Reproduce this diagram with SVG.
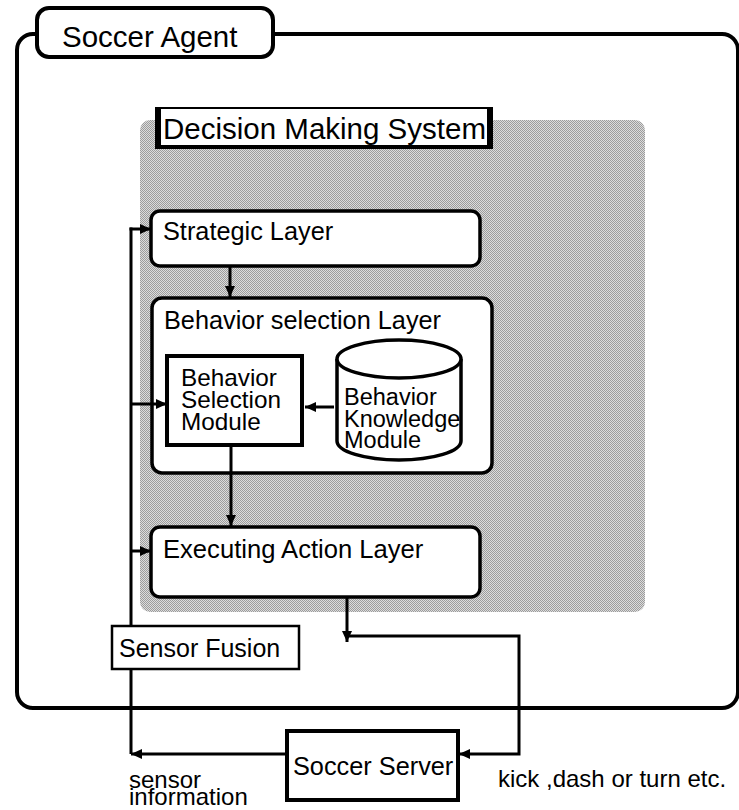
<svg xmlns="http://www.w3.org/2000/svg" width="739" height="810" viewBox="0 0 739 810">
<style>
  text { font-family: "Liberation Sans", Arial, sans-serif; fill: #000; }
  .box { fill: #fff; stroke: #000; stroke-width: 3.5; }
  .thin { fill: #fff; stroke: #000; stroke-width: 2.5; }
  .wire { fill: none; stroke: #000; stroke-width: 3; }
  .frame { fill: none; stroke: #000; stroke-width: 4; }
</style>
<defs>
  <pattern id="dots" width="2" height="2" patternUnits="userSpaceOnUse">
    <rect width="2" height="2" fill="#dcdcdc"/>
    <rect width="1" height="1" fill="#9c9c9c"/>
    <rect x="1" y="1" width="1" height="1" fill="#9c9c9c"/>
  </pattern>
  <marker id="arr" markerUnits="userSpaceOnUse" markerWidth="11" markerHeight="10" refX="11" refY="5" orient="auto">
    <path d="M0,0 L11,5 L0,10 z" fill="#000"/>
  </marker>
</defs>
<rect width="739" height="810" fill="#fff"/>

<g id="soccer-agent">
  <rect class="frame" x="17" y="34" width="721" height="674" rx="16"/>
  <rect x="37" y="8" width="236" height="49" rx="12" fill="#fff" stroke="#000" stroke-width="4"/>
  <text x="62" y="47" font-size="29.5">Soccer Agent</text>
</g>

<g id="decision-making-system">
  <rect x="140" y="120" width="505" height="492" rx="10" fill="url(#dots)"/>
  <rect x="155" y="107" width="338" height="42" fill="#000"/>
  <rect x="161" y="109" width="326" height="36" fill="#fff"/>
  <text x="163" y="139" font-size="29.5">Decision Making System</text>
</g>

<g id="strategic-layer">
  <rect class="box" x="151" y="211" width="329" height="55" rx="9"/>
  <text x="163" y="240" font-size="25.3">Strategic Layer</text>
</g>

<g id="behavior-selection-layer">
  <rect class="box" x="152" y="298" width="340" height="175" rx="10"/>
  <text x="164" y="329" font-size="25.3">Behavior selection Layer</text>
</g>

<g id="behavior-selection-module">
  <rect x="167" y="356" width="135" height="89" fill="#fff" stroke="#000" stroke-width="4"/>
  <text x="181" y="386" font-size="24.3">Behavior</text>
  <text x="181" y="408" font-size="24.3">Selection</text>
  <text x="181" y="430" font-size="24.3">Module</text>
</g>

<g id="behavior-knowledge-module">
  <path d="M337,359 L337,441 A62,19 0 0 0 461,441 L461,359" fill="#fff" stroke="#000" stroke-width="3.5"/>
  <ellipse cx="399" cy="359" rx="62" ry="19" fill="#fff" stroke="#000" stroke-width="3.5"/>
  <text x="344" y="405" font-size="23.5">Behavior</text>
  <text x="344" y="427" font-size="23.5">Knowledge</text>
  <text x="344" y="448" font-size="23.5">Module</text>
</g>

<g id="executing-action-layer">
  <rect class="box" x="151" y="527" width="329" height="70" rx="9"/>
  <text x="163" y="558" font-size="25.6">Executing Action Layer</text>
</g>

<g id="connectors">
  <line class="wire" x1="230" y1="267" x2="230" y2="297" marker-end="url(#arr)"/>
  <line class="wire" x1="334" y1="407" x2="305" y2="407" marker-end="url(#arr)"/>
  <line class="wire" x1="231" y1="446" x2="231" y2="526" marker-end="url(#arr)"/>
  <line class="wire" x1="347" y1="597" x2="347" y2="642" marker-end="url(#arr)"/>
  <polyline class="wire" points="347,636 519,636 519,754 459,754" marker-end="url(#arr)"/>
  <line class="wire" x1="287" y1="754" x2="131" y2="754" marker-end="url(#arr)"/>
  <line class="wire" x1="131" y1="754" x2="131" y2="227.5"/>
  <line class="wire" x1="129.5" y1="229" x2="151" y2="229" marker-end="url(#arr)"/>
  <line class="wire" x1="131" y1="404" x2="167" y2="404" marker-end="url(#arr)"/>
  <line class="wire" x1="131" y1="551" x2="151" y2="551" marker-end="url(#arr)"/>
</g>

<g id="sensor-fusion">
  <rect class="thin" x="112" y="626" width="187" height="43"/>
  <text x="119" y="657" font-size="25">Sensor Fusion</text>
</g>

<g id="soccer-server">
  <rect x="287" y="731" width="171" height="69" fill="#fff" stroke="#000" stroke-width="4"/>
  <text x="293" y="775" font-size="25.3">Soccer Server</text>
</g>

<g id="labels">
  <text x="129" y="788" font-size="24">sensor</text>
  <text x="129" y="805" font-size="24">information</text>
  <text x="498" y="787" font-size="24">kick ,dash or turn etc.</text>
</g>
</svg>
